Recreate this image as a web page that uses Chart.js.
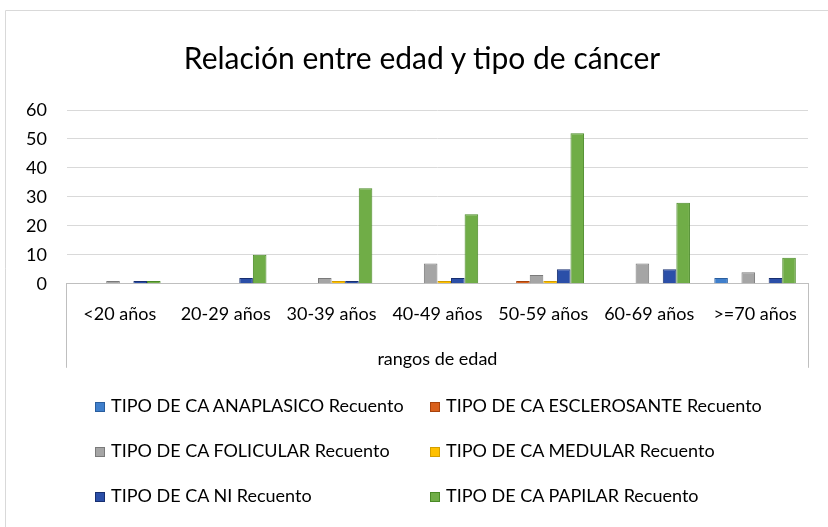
<!DOCTYPE html>
<html>
<head>
<meta charset="utf-8">
<script src="https://cdn.jsdelivr.net/npm/chart.js@4"></script>
<style>
  html, body { margin: 0; padding: 0; background: #fff; }
  #wrap { position: relative; width: 828px; height: 527px; }
  #titulo { position: absolute; left: 0; width: 844px; top: 39px; line-height: 36px; text-align: center;
            font-family: 'Lato', sans-serif; font-size: 30px; color: #000; }
  #legend { position: absolute; left: 0; top: 0; width: 828px; height: 527px; pointer-events: none;
            font-family: 'Lato', sans-serif; font-size: 18px; color: #000; }
  .leg-item { position: absolute; white-space: nowrap; line-height: 20px; }
  .leg-box { display: inline-block; width: 10px; height: 10px; margin-right: 6px; vertical-align: 0px; box-sizing: border-box; border: 1px solid; }
</style>
</head>
<body>
<div id="wrap">
  <canvas id="chart" width="828" height="527"></canvas>
  <div id="titulo">Relación entre edad y tipo de cáncer</div>
  <div id="legend"></div>
</div>
<script>
// Datos del gráfico
const categorias = ['<20 años', '20-29 años', '30-39 años', '40-49 años', '50-59 años', '60-69 años', '>=70 años'];
const anaplasico   = [0, 0, 0, 0, 0, 0, 2];
const esclerosante = [0, 0, 0, 0, 1, 0, 0];
const folicular    = [1, 0, 2, 7, 3, 7, 4];
const medular      = [0, 0, 1, 1, 1, 0, 0];
const ni           = [1, 2, 1, 2, 5, 5, 2];
const papilar      = [1, 10, 33, 24, 52, 28, 9];
const ticksY = [0, 10, 20, 30, 40, 50, 60];

const fuente = "'Lato', sans-serif";

// Líneas del recuadro bajo el eje y borde exterior
const recuadro = {
    id: 'recuadro',
    beforeDraw(chart) {
        const ctx = chart.ctx;
        ctx.save();
        ctx.strokeStyle = '#d9d9d9';
        ctx.lineWidth = 1;
        ctx.beginPath();
        ctx.moveTo(5.5, 527);
        ctx.lineTo(5.5, 10.5);
        ctx.lineTo(828, 10.5);
        ctx.stroke();
        ctx.restore();
    },
    afterDraw(chart) {
        const a = chart.chartArea;
        const ctx = chart.ctx;
        ctx.save();
        ctx.strokeStyle = '#bfbfbf';
        ctx.lineWidth = 1;
        ctx.beginPath();
        ctx.moveTo(Math.round(a.left) - 0.5, a.bottom);
        ctx.lineTo(Math.round(a.left) - 0.5, a.bottom + 84);
        ctx.moveTo(Math.round(a.right) + 0.5, a.bottom);
        ctx.lineTo(Math.round(a.right) + 0.5, a.bottom + 84);
        ctx.stroke();
        ctx.restore();
    }
};

function serie(label, data, color, borde) {
    return {
        label: label,
        data: data,
        backgroundColor: color,
        borderColor: borde,
        borderWidth: 1,
        categoryPercentage: 0.77,
        barPercentage: 1.0
    };
}

const chart = new Chart(document.getElementById('chart'), {
    type: 'bar',
    data: {
        labels: categorias,
        datasets: [
            serie('TIPO DE CA ANAPLASICO Recuento', anaplasico, '#3f7fcc', '#2a5e9e'),
            serie('TIPO DE CA ESCLEROSANTE Recuento', esclerosante, '#d9601c', '#a8430c'),
            serie('TIPO DE CA FOLICULAR Recuento', folicular, '#a5a5a5', '#7a7a7a'),
            serie('TIPO DE CA MEDULAR Recuento', medular, '#ffc000', '#d39e00'),
            serie('TIPO DE CA NI Recuento', ni, '#2b4fa8', '#182f70'),
            serie('TIPO DE CA PAPILAR Recuento', papilar, '#70ad47', '#4a8a26')
        ]
    },
    options: {
        responsive: false,
        animation: false,
        layout: { padding: { left: 6, right: 20, top: 110, bottom: 157 } },
        plugins: {
            legend: { display: false },
            tooltip: { enabled: false },
            title: { display: false }
        },
        scales: {
            x: {
                grid: { display: false, drawTicks: false },
                border: { display: true, color: '#bfbfbf' },
                ticks: { color: '#000', font: { family: fuente, size: 18 }, padding: 20, maxRotation: 0 },
                title: {
                    display: true,
                    text: 'rangos de edad',
                    color: '#000',
                    font: { family: fuente, size: 18 },
                    padding: { top: 3, bottom: 0 }
                }
            },
            y: {
                min: 0,
                max: 60,
                afterBuildTicks(axis) { axis.ticks = ticksY.map(v => ({ value: v })); },
                grid: { color: '#d9d9d9', drawTicks: false },
                border: { display: false },
                ticks: { color: '#000', font: { family: fuente, size: 18 }, padding: 20 }
            }
        }
    },
    plugins: [recuadro]
});

// Leyenda en dos columnas
const legend = document.getElementById('legend');
const posX = [95, 430];
const posY = [395, 440, 485];
chart.data.datasets.forEach((ds, i) => {
    const item = document.createElement('div');
    item.className = 'leg-item';
    item.style.left = posX[i % 2] + 'px';
    item.style.top = posY[Math.floor(i / 2)] + 'px';
    const box = document.createElement('span');
    box.className = 'leg-box';
    box.style.background = ds.backgroundColor;
    box.style.borderColor = ds.borderColor;
    item.appendChild(box);
    item.appendChild(document.createTextNode(ds.label));
    legend.appendChild(item);
});
</script>
</body>
</html>
